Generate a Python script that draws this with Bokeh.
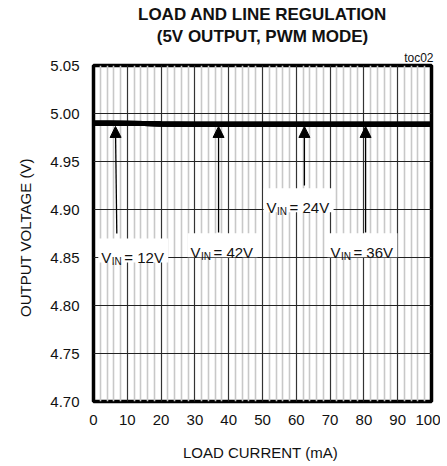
from bokeh.plotting import figure
from bokeh.models import FixedTicker, Label, Arrow, NormalHead, NumeralTickFormatter, Range1d, Title
from bokeh.embed import file_html
from bokeh.resources import INLINE

FONT = "Liberation Sans"

# ---- data ----
load_ma = [0, 5, 10, 15, 20, 25, 30, 40, 50, 60, 70, 80, 90, 100]
vout_12v = [4.9899, 4.9899, 4.9898, 4.9896, 4.9890, 4.9889, 4.9889, 4.9889, 4.9888, 4.9888, 4.9888, 4.9888, 4.9888, 4.9888]
vout_24v = [4.9900, 4.9900, 4.9899, 4.9897, 4.9891, 4.9890, 4.9889, 4.9889, 4.9889, 4.9888, 4.9888, 4.9888, 4.9888, 4.9887]
vout_36v = [4.9899, 4.9899, 4.9898, 4.9896, 4.9890, 4.9889, 4.9889, 4.9888, 4.9888, 4.9888, 4.9888, 4.9887, 4.9887, 4.9887]
vout_42v = [4.9898, 4.9898, 4.9897, 4.9895, 4.9890, 4.9889, 4.9888, 4.9888, 4.9888, 4.9888, 4.9887, 4.9887, 4.9887, 4.9887]

x_ticks = list(range(0, 101, 10))
x_minor_ticks = [m for m in range(0, 101, 2) if m % 10]
y_ticks = [4.70, 4.75, 4.80, 4.85, 4.90, 4.95, 5.00, 5.05]

title_lines = ["LOAD AND LINE REGULATION", "(5V OUTPUT, PWM MODE)"]
corner_tag = "toc02"
x_title = "LOAD CURRENT  (mA)"
y_title = "OUTPUT  VOLTAGE  (V)"

# annotations: V_IN labels and arrows
label_vin = ["12V", "42V", "24V", "36V"]
label_x = [2.3, 28.7, 51.2, 70.1]
label_y = [4.8500, 4.8555, 4.9024, 4.8555]
arrow_head_x = [6.5, 37.0, 62.4, 80.5]
arrow_tail_x = [6.9, 37.0, 62.4, 80.5]
arrow_head_y = 4.9865
arrow_tail_y = [4.875, 4.876, 4.925, 4.876]

W, H = 440, 465
BL, BR, BT, BB = 93, 9, 65, 64
FW, FH = W - BL - BR, H - BT - BB
XS = FW / 100.0      # px per mA
YS = FH / 0.35       # px per V

p = figure(width=W, height=H,
           min_border_left=BL, min_border_right=BR, min_border_top=BT, min_border_bottom=BB,
           x_range=Range1d(0, 100), y_range=Range1d(4.70, 5.05),
           output_backend="svg", toolbar_location=None, title_location=None,
           background_fill_color="white", border_fill_color="white")

p.outline_line_color = "black"
p.outline_line_width = 3.5

# grids
p.xgrid.ticker = FixedTicker(ticks=x_ticks, minor_ticks=x_minor_ticks)
p.xgrid.grid_line_color = "#333333"
p.xgrid.grid_line_width = 1.2
p.xgrid.minor_grid_line_color = "#c8c8c8"
p.xgrid.minor_grid_line_width = 1.6
p.ygrid.ticker = FixedTicker(ticks=y_ticks)
p.ygrid.grid_line_color = "#222222"
p.ygrid.grid_line_width = 1.2

# axes
for ax in (p.xaxis[0], p.yaxis[0]):
    ax.axis_line_color = None
    ax.major_tick_line_color = None
    ax.minor_tick_line_color = None
    ax.major_tick_out = 0
    ax.major_tick_in = 0
    ax.minor_tick_out = 0
    ax.minor_tick_in = 0
    ax.major_label_text_font = FONT
    ax.major_label_text_font_size = "15px"
    ax.major_label_text_color = "#111111"
    ax.axis_label_text_font = FONT
    ax.axis_label_text_font_size = "15px"
    ax.axis_label_text_font_style = "normal"
    ax.axis_label_text_color = "#111111"

p.xaxis.ticker = FixedTicker(ticks=x_ticks)
p.yaxis.ticker = FixedTicker(ticks=y_ticks)
p.yaxis.formatter = NumeralTickFormatter(format="0.00")
p.xaxis.axis_label = x_title
p.yaxis.axis_label = y_title
p.xaxis.major_label_standoff = 13
p.xaxis.axis_label_standoff = 16
p.yaxis.major_label_standoff = 14
p.yaxis.axis_label_standoff = 13

# white boxes behind the V_IN labels
box_l = [x - 3 / XS for x in label_x]
box_r = [x + 67 / XS for x in label_x]
box_b = [y - 5 / YS for y in label_y]
box_t = [y + 19 / YS for y in label_y]
p.quad(left=box_l, right=box_r, bottom=box_b, top=box_t, fill_color="white", line_color=None)

# data lines
for series in (vout_12v, vout_24v, vout_36v, vout_42v):
    p.line(load_ma, series, line_width=5, line_color="black")

# arrows
for hx, tx, ty in zip(arrow_head_x, arrow_tail_x, arrow_tail_y):
    p.add_layout(Arrow(end=NormalHead(size=11, fill_color="black", line_color="black", line_width=1),
                       x_start=tx, y_start=ty, x_end=hx, y_end=arrow_head_y,
                       line_width=1.3, line_color="black"))

# V_IN labels
for txt, lx, ly in zip(label_vin, label_x, label_y):
    p.add_layout(Label(x=lx, y=ly, text="V", text_font=FONT, text_font_size="15px",
                       text_baseline="alphabetic", text_color="#111111"))
    p.add_layout(Label(x=lx, y=ly, x_offset=10.5, y_offset=-4, text="IN", text_font=FONT,
                       text_font_size="10px", text_baseline="alphabetic", text_color="#111111"))
    p.add_layout(Label(x=lx, y=ly, x_offset=23, text="= " + txt, text_font=FONT,
                       text_font_size="15px", text_baseline="alphabetic", text_color="#111111"))

# titles (first added sits nearest the frame)
p.add_layout(Title(text=corner_tag, align="right", text_font=FONT, text_font_size="12px",
                   text_font_style="normal", text_color="#111111", standoff=1, offset=-2), "above")
p.add_layout(Title(text=title_lines[1], align="center", text_font=FONT, text_font_size="17px",
                   text_font_style="bold", text_color="#111111", standoff=5), "above")
p.add_layout(Title(text=title_lines[0], align="center", text_font=FONT, text_font_size="17px",
                   text_font_style="bold", text_color="#111111", standoff=-3), "above")

open("out.html", "w").write(file_html(p, INLINE))
